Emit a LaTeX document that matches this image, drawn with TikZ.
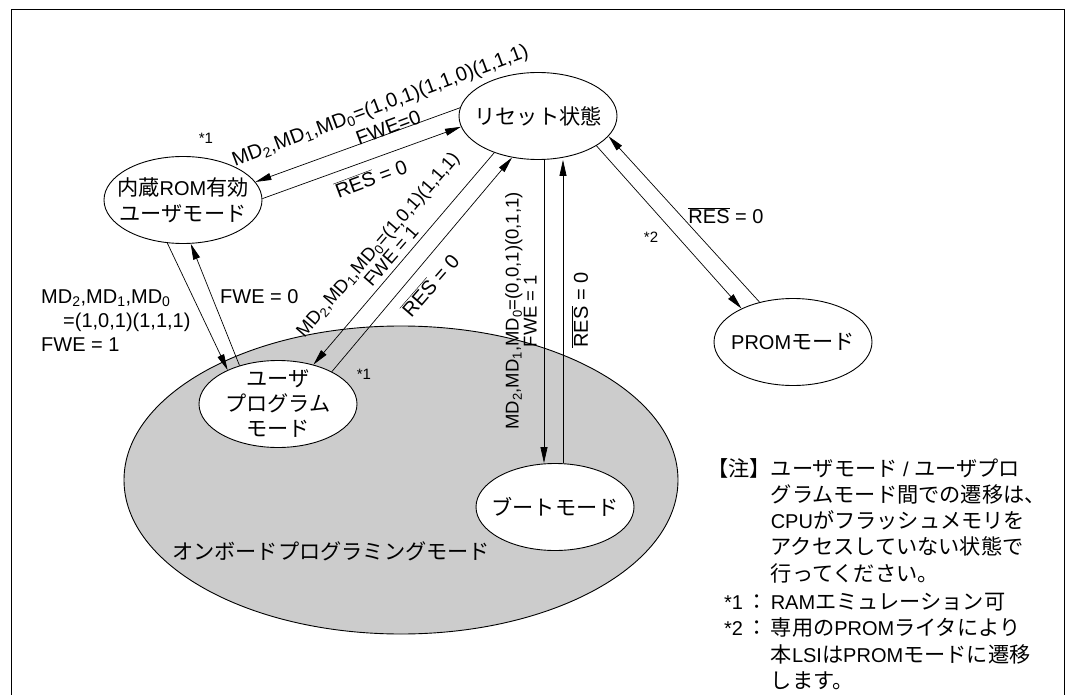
\documentclass[tikz,border=0pt]{standalone}
\usepackage{fontspec}
\setmainfont{Liberation Sans}
\newfontfamily\jp{Noto Sans CJK JP}[Scale=1.06]
\usetikzlibrary{arrows.meta,shapes.geometric}
\definecolor{obgray}{RGB}{204,204,204}
\newcommand\jt[1]{{\jp #1}}
\newcommand\mdl{MD\textsubscript{2},MD\textsubscript{1},MD\textsubscript{0}}
\newcommand\resbar{$\overline{\mbox{RES}}$}
\begin{document}
\begin{tikzpicture}[x=1pt,y=-1pt,
  st/.style={draw, ellipse, line width=0.9pt, fill=white, minimum width=158pt, minimum height=87pt, inner sep=0pt},
  tx/.style={font=\fontsize{20}{26}\selectfont, align=center, inner sep=0pt},
  lbl/.style={font=\fontsize{20}{24}\selectfont, align=center, inner sep=0pt},
  slbl/.style={font=\fontsize{18.5}{18}\selectfont, align=center, inner sep=0pt},
  conn/.style={line width=0.7pt, -{Triangle[length=16pt,width=7pt]}},
  star/.style={font=\fontsize{15}{18}\selectfont, inner sep=0pt}]

\useasboundingbox (0,0) rectangle (1079,695);
\draw[line width=1pt] (11,695) -- (11,10) -- (1064,10) -- (1064,695);

\node[draw, ellipse, fill=obgray, line width=0.9pt, minimum width=554pt, minimum height=308pt, inner sep=0pt] (OB) at (401,480) {};
\node[tx] (OBt) at (331,551) {\jt{オンボードプログラミングモード}};

\node[st] (R) at (538,116) {};
\node[st] (ROM) at (183,200) {};
\node[st] (UP) at (278,404) {};
\node[st] (BT) at (555,507) {};
\node[st] (PR) at (793,342) {};
\node[tx] (Rt) at (R) {\jt{リセット状態}};
\node[tx] (ROMt) at (ROM) {\jt{内蔵}ROM\jt{有効}\\\jt{ユーザモード}};
\node[tx, font=\fontsize{20}{25}\selectfont] (UPt) at (UP) {\jt{ユーザ}\\\jt{プログラム}\\\jt{モード}};
\node[tx] (BTt) at (BT) {\jt{ブートモード}};
\node[tx] (PRt) at (PR) {PROM\jt{モード}};

\draw[conn] (R.174) -- (ROM.14);
\draw[conn] (ROM.1.5) -- (R.188);
\draw[conn] (ROM.250.3) -- (UP.146);
\draw[conn] (UP.135.8) -- (ROM.280.5);
\draw[conn] (R.220.3) -- (UP.48.8);
\draw[conn] (UP.31.9) -- (R.238.2);
\coordinate (g1) at ([xshift=6pt]R.south);
\coordinate (h1) at ([xshift=8pt]BT.north);
\draw[conn] (g1) -- (g1 |- BT.north);
\draw[conn] (h1) -- (h1 |- R.south);
\draw[conn] (R.333) -- (PR.147.5);
\draw[conn] (PR.130.6) -- (R.344.2);

\node[lbl, rotate=20.5] (lA) at (384,116) {\mdl=(1,0,1)(1,1,0)(1,1,1)\\FWE=0};
\node[lbl, rotate=20.5] (lB) at (371,178) {\resbar{} = 0};
\node[star] (s1a) at (206,138) {*1};
\node[lbl, align=left, anchor=west] (lE) at (41,321) {\mdl\\\hspace*{22pt}=(1,0,1)(1,1,1)\\FWE = 1};
\node[lbl, anchor=west] (lF) at (220,297) {FWE = 0};
\node[slbl, rotate=49] (lC) at (384,250) {\mdl=(1,0,1)(1,1,1)\\FWE = 1};
\node[lbl, rotate=49] (lD) at (430,285) {\resbar{} = 0};
\node[slbl, rotate=90] (lG) at (521,311) {\mdl=(0,0,1)(0,1,1)\\FWE = 1};
\node[lbl, rotate=90] (lH) at (580,310) {\resbar{} = 0};
\node[lbl] (lP) at (726,216) {\resbar{} = 0};
\node[star] (s2) at (651,237) {*2};
\node[star] (s1b) at (364,374) {*1};

\node[font=\fontsize{20}{26.3}\selectfont, anchor=west, inner sep=0pt] (note) at (707,577) {%
 \begin{tabular}{@{}r@{}l@{}}
 \jt{【注】} & \jt{ユーザモード}\ /\ \jt{ユーザプロ}\\
 & \jt{グラムモード間での遷移は、}\\
 & CPU\jt{がフラッシュメモリを}\\
 & \jt{アクセスしていない状態で}\\
 & \jt{行ってください。}\\[2pt]
 {*}1\,\jt{：}\, & RAM\jt{エミュレーション可}\\
 {*}2\,\jt{：}\, & \jt{専用の}PROM\jt{ライタにより}\\
 & \jt{本}LSI\jt{は}PROM\jt{モードに遷移}\\
 & \jt{します。}
 \end{tabular}};
\end{tikzpicture}
\end{document}
